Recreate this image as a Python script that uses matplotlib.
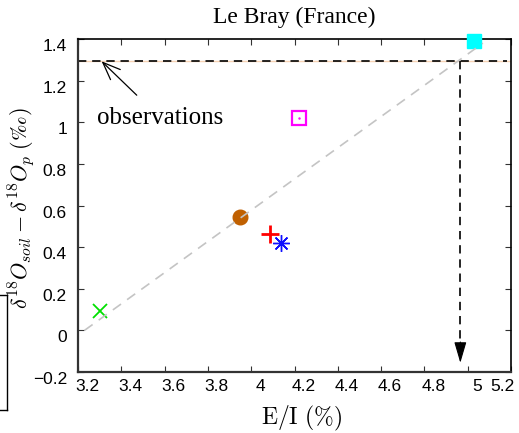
import matplotlib
matplotlib.use("Agg")
import matplotlib.pyplot as plt
from matplotlib.transforms import ScaledTranslation
from matplotlib.lines import Line2D

plt.rcParams['mathtext.fontset'] = 'cm'

# Scenario points: E/I (%) vs soil - precipitation d18O offset (permil)
ei = {
    'cyan_sq': 5.03,
    'magenta_sq': 4.22,
    'brown_circ': 3.95,
    'red_plus': 4.085,
    'blue_star': 4.138,
    'green_x': 3.30,
}
d18 = {
    'cyan_sq': 1.39,
    'magenta_sq': 1.02,
    'brown_circ': 0.545,
    'red_plus': 0.462,
    'blue_star': 0.422,
    'green_x': 0.093,
}

# Linear fit through the scenarios
fit_x = [3.23, 5.07]
fit_y = [0.0, 1.38]

# Observed offset and the inferred E/I
obs_value = 1.293
obs_ei = 4.966
arrow_end = -0.156

xticks = [3.2, 3.4, 3.6, 3.8, 4.0, 4.2, 4.4, 4.6, 4.8, 5.0, 5.2]
xticklabels = ['3.2', '3.4', '3.6', '3.8', '4', '4.2', '4.4', '4.6', '4.8', '5', '5.2']
yticks = [-0.2, 0, 0.2, 0.4, 0.6, 0.8, 1.0, 1.2, 1.4]
yticklabels = ['\u22120.2', '0', '0.2', '0.4', '0.6', '0.8', '1', '1.2', '1.4']

W, H = 519, 433
fig = plt.figure(figsize=(W / 100, H / 100), dpi=100)
ax = fig.add_axes([78 / W, 1 - 372 / H, 433 / W, 333 / H])
ax.set_xlim(3.2, 5.2)
ax.set_ylim(-0.2, 1.4)

# observation line (faint underlay + dashed)
ax.axhline(obs_value, color='#f6d2b4', lw=1.0, zorder=1)
ax.plot([3.2, 5.18], [obs_value, obs_value], color='black', lw=1.2,
        dashes=(5, 3.5), zorder=2)
ax.plot([obs_ei, obs_ei], [obs_value, arrow_end + 0.09], color='black', lw=1.2,
        dashes=(5, 3.5), zorder=2)
ax.annotate('', xy=(obs_ei, arrow_end), xytext=(obs_ei, arrow_end + 0.1),
            arrowprops=dict(arrowstyle='-|>,head_length=1.3,head_width=0.38',
                            color='black', lw=0.8, shrinkA=0, shrinkB=0),
            fontsize=10, zorder=3)

# scenario markers
ax.plot(ei['cyan_sq'], d18['cyan_sq'], 's', color='#00ffff', ms=10, mec='#00ffff',
        clip_on=False, zorder=3)
ax.plot(ei['magenta_sq'], d18['magenta_sq'], 's', mfc='none', mec='#ff00ff', ms=9.5,
        mew=1.6, zorder=3)
ax.plot(ei['magenta_sq'], d18['magenta_sq'], '.', color='#ff00ff', ms=1.5, zorder=3)
ax.plot(ei['brown_circ'], d18['brown_circ'], 'o', color='#c06000', ms=10.5, zorder=3)
ax.plot(ei['red_plus'], d18['red_plus'], '+', color='#ff0000', ms=13, mew=2.0, zorder=3)
ax.plot(ei['blue_star'], d18['blue_star'], marker=(8, 2, 0), color='#1010ff', ms=12,
        mew=1.0, ls='none', zorder=3)
ax.plot(ei['green_x'], d18['green_x'], 'x', color='#00e000', ms=10.5, mew=1.3, zorder=3)

# fit line on top of the markers
ax.plot(fit_x, fit_y, color='#c4c4c4', lw=1.2, dashes=(6, 4.5), zorder=4, clip_on=False)

# annotation for observations
ax.annotate('observations', xy=(3.309, obs_value), xytext=(3.5788, 1.022),
            textcoords='data', ha='center', va='center',
            fontsize=18, family='Liberation Serif',
            arrowprops=dict(arrowstyle='->,head_length=0.7,head_width=0.28',
                            color='black', lw=0.9, shrinkA=9, shrinkB=0))

# ticks
ax.set_xticks(xticks)
ax.set_xticklabels(xticklabels)
ax.set_yticks(yticks)
ax.set_yticklabels(yticklabels)
ax.tick_params(direction='in', length=4, width=0.8, top=True, right=True,
               labelsize=12.5, color='#333333')
ax.tick_params(axis='x', pad=5)
ax.tick_params(axis='y', pad=8)
for lab in ax.get_xticklabels() + ax.get_yticklabels():
    lab.set_family('Liberation Sans')

# slight label offsets
for i, t in enumerate(ax.xaxis.get_major_ticks()):
    dx = 9 / 100 if i < len(xticks) - 1 else -9 / 100
    t.label1.set_transform(t.label1.get_transform() + ScaledTranslation(dx, 0, fig.dpi_scale_trans))
for t in ax.yaxis.get_major_ticks():
    t.label1.set_transform(t.label1.get_transform() + ScaledTranslation(0, -6 / 100, fig.dpi_scale_trans))

for side in ['left', 'bottom']:
    ax.spines[side].set_linewidth(1.6)
    ax.spines[side].set_color('#333333')
for side in ['top', 'right']:
    ax.spines[side].set_linewidth(1.2)
    ax.spines[side].set_color('black')

# labels
fig.text(294.5 / W, 1 - 17 / H, 'Le Bray (France)', ha='center', va='center',
         fontsize=17, family='Liberation Serif')
fig.text(302 / W, 1 - 418 / H, r'$\mathrm{E/I}\ (\%)$', ha='center', va='center',
         fontsize=17)
fig.text(22 / W, 1 - 208 / H, r'$\delta^{18}O_{soil} - \delta^{18}O_p\ (' + '\u2030' + r')$',
         ha='center', va='center', rotation=90, fontsize=16)

# box edge at far left
fig.add_artist(Line2D([7 / W, 7 / W], [1 - 295 / H, 1 - 410 / H], color='black', lw=1.0,
                      transform=fig.transFigure))
fig.add_artist(Line2D([0, 7 / W], [1 - 295 / H, 1 - 295 / H], color='black', lw=1.0,
                      transform=fig.transFigure))
fig.add_artist(Line2D([0, 7 / W], [1 - 410 / H, 1 - 410 / H], color='black', lw=1.0,
                      transform=fig.transFigure))

fig.savefig('out.png', dpi=100)
